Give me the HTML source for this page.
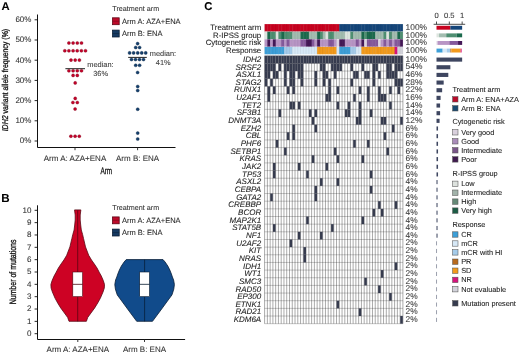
<!DOCTYPE html>
<html><head><meta charset="utf-8"><style>
html,body{margin:0;padding:0;background:#fff;}
svg{display:block;font-family:"Liberation Sans", sans-serif;will-change:transform;text-rendering:geometricPrecision;}
text{paint-order:stroke;stroke-width:0.08px;stroke:currentColor;}
</style></head><body>
<svg width="520" height="355" viewBox="0 0 520 355">
<text x="1.4" y="9.6" font-size="11.3" text-anchor="start" fill="#000" color="#000" font-weight="bold" font-style="normal" >A</text>
<path d="M37.5 14.5 V147.5 H175.5" fill="none" stroke="#111" stroke-width="1"/>
<line x1="34.6" y1="141.00" x2="37.5" y2="141.00" stroke="#111" stroke-width="0.9"/>
<text x="31.4" y="143.4" font-size="8" text-anchor="end" fill="#333" color="#333" font-weight="normal" font-style="normal" >0%</text>
<line x1="34.6" y1="120.80" x2="37.5" y2="120.80" stroke="#111" stroke-width="0.9"/>
<text x="31.4" y="123.2" font-size="8" text-anchor="end" fill="#333" color="#333" font-weight="normal" font-style="normal" >10%</text>
<line x1="34.6" y1="100.60" x2="37.5" y2="100.60" stroke="#111" stroke-width="0.9"/>
<text x="31.4" y="103.0" font-size="8" text-anchor="end" fill="#333" color="#333" font-weight="normal" font-style="normal" >20%</text>
<line x1="34.6" y1="80.40" x2="37.5" y2="80.40" stroke="#111" stroke-width="0.9"/>
<text x="31.4" y="82.80000000000001" font-size="8" text-anchor="end" fill="#333" color="#333" font-weight="normal" font-style="normal" >30%</text>
<line x1="34.6" y1="60.20" x2="37.5" y2="60.20" stroke="#111" stroke-width="0.9"/>
<text x="31.4" y="62.6" font-size="8" text-anchor="end" fill="#333" color="#333" font-weight="normal" font-style="normal" >40%</text>
<line x1="34.6" y1="40.00" x2="37.5" y2="40.00" stroke="#111" stroke-width="0.9"/>
<text x="31.4" y="42.4" font-size="8" text-anchor="end" fill="#333" color="#333" font-weight="normal" font-style="normal" >50%</text>
<line x1="34.6" y1="19.80" x2="37.5" y2="19.80" stroke="#111" stroke-width="0.9"/>
<text x="31.4" y="22.20000000000001" font-size="8" text-anchor="end" fill="#333" color="#333" font-weight="normal" font-style="normal" >60%</text>
<line x1="75" y1="147.5" x2="75" y2="150.2" stroke="#222" stroke-width="0.9"/>
<line x1="137.6" y1="147.5" x2="137.6" y2="150.2" stroke="#222" stroke-width="0.9"/>
<text x="75" y="160.8" font-size="8" text-anchor="middle" fill="#333" color="#333" font-weight="normal" font-style="normal" >Arm A: AZA+ENA</text>
<text x="137.6" y="160.8" font-size="8" text-anchor="middle" fill="#333" color="#333" font-weight="normal" font-style="normal" >Arm B: ENA</text>
<text x="0" y="0" font-size="9.6" text-anchor="middle" fill="#111" color="#111" style="stroke-width:0.3px" transform="translate(106.3 174.3) scale(0.66 1)">Arm</text>
<text x="0" y="0" font-size="8.5" text-anchor="middle" fill="#111" color="#111" style="stroke-width:0.3px" transform="translate(7.7 80.1) rotate(-90) scale(0.822 1)"><tspan font-style="italic">IDH2</tspan> variant allele frequency (%)</text>
<circle cx="68.9" cy="43.00" r="1.55" fill="#c3042a" stroke="#7a0018" stroke-width="0.35"/>
<circle cx="73.1" cy="43.00" r="1.55" fill="#c3042a" stroke="#7a0018" stroke-width="0.35"/>
<circle cx="77.3" cy="43.00" r="1.55" fill="#c3042a" stroke="#7a0018" stroke-width="0.35"/>
<circle cx="81.5" cy="43.00" r="1.55" fill="#c3042a" stroke="#7a0018" stroke-width="0.35"/>
<circle cx="64.8" cy="50.80" r="1.55" fill="#c3042a" stroke="#7a0018" stroke-width="0.35"/>
<circle cx="68.9" cy="50.80" r="1.55" fill="#c3042a" stroke="#7a0018" stroke-width="0.35"/>
<circle cx="73.1" cy="50.80" r="1.55" fill="#c3042a" stroke="#7a0018" stroke-width="0.35"/>
<circle cx="77.2" cy="50.80" r="1.55" fill="#c3042a" stroke="#7a0018" stroke-width="0.35"/>
<circle cx="81.4" cy="50.80" r="1.55" fill="#c3042a" stroke="#7a0018" stroke-width="0.35"/>
<circle cx="85.5" cy="50.80" r="1.55" fill="#c3042a" stroke="#7a0018" stroke-width="0.35"/>
<circle cx="71" cy="60.10" r="1.55" fill="#c3042a" stroke="#7a0018" stroke-width="0.35"/>
<circle cx="75.2" cy="60.10" r="1.55" fill="#c3042a" stroke="#7a0018" stroke-width="0.35"/>
<circle cx="79.4" cy="60.10" r="1.55" fill="#c3042a" stroke="#7a0018" stroke-width="0.35"/>
<circle cx="68.9" cy="70.80" r="1.55" fill="#c3042a" stroke="#7a0018" stroke-width="0.35"/>
<circle cx="73.1" cy="70.80" r="1.55" fill="#c3042a" stroke="#7a0018" stroke-width="0.35"/>
<circle cx="77.3" cy="70.80" r="1.55" fill="#c3042a" stroke="#7a0018" stroke-width="0.35"/>
<circle cx="81.5" cy="70.80" r="1.55" fill="#c3042a" stroke="#7a0018" stroke-width="0.35"/>
<circle cx="73.1" cy="75.40" r="1.55" fill="#c3042a" stroke="#7a0018" stroke-width="0.35"/>
<circle cx="77.3" cy="75.40" r="1.55" fill="#c3042a" stroke="#7a0018" stroke-width="0.35"/>
<circle cx="75.2" cy="82.90" r="1.55" fill="#c3042a" stroke="#7a0018" stroke-width="0.35"/>
<circle cx="75.2" cy="98.40" r="1.55" fill="#c3042a" stroke="#7a0018" stroke-width="0.35"/>
<circle cx="72.9" cy="102.50" r="1.55" fill="#c3042a" stroke="#7a0018" stroke-width="0.35"/>
<circle cx="77.3" cy="102.50" r="1.55" fill="#c3042a" stroke="#7a0018" stroke-width="0.35"/>
<circle cx="75.1" cy="109.00" r="1.55" fill="#c3042a" stroke="#7a0018" stroke-width="0.35"/>
<circle cx="70.9" cy="136.20" r="1.55" fill="#c3042a" stroke="#7a0018" stroke-width="0.35"/>
<circle cx="75.1" cy="136.20" r="1.55" fill="#c3042a" stroke="#7a0018" stroke-width="0.35"/>
<circle cx="79.3" cy="136.20" r="1.55" fill="#c3042a" stroke="#7a0018" stroke-width="0.35"/>
<line x1="65.4" y1="68.7" x2="85" y2="68.7" stroke="#222" stroke-width="1"/>
<circle cx="137.6" cy="43.60" r="1.55" fill="#15406e" stroke="#0a2240" stroke-width="0.35"/>
<circle cx="135.7" cy="47.50" r="1.55" fill="#15406e" stroke="#0a2240" stroke-width="0.35"/>
<circle cx="139.6" cy="47.50" r="1.55" fill="#15406e" stroke="#0a2240" stroke-width="0.35"/>
<circle cx="129.6" cy="52.90" r="1.55" fill="#15406e" stroke="#0a2240" stroke-width="0.35"/>
<circle cx="133.6" cy="52.90" r="1.55" fill="#15406e" stroke="#0a2240" stroke-width="0.35"/>
<circle cx="137.7" cy="52.90" r="1.55" fill="#15406e" stroke="#0a2240" stroke-width="0.35"/>
<circle cx="141.7" cy="52.90" r="1.55" fill="#15406e" stroke="#0a2240" stroke-width="0.35"/>
<circle cx="145.7" cy="52.90" r="1.55" fill="#15406e" stroke="#0a2240" stroke-width="0.35"/>
<circle cx="131.5" cy="59.50" r="1.55" fill="#15406e" stroke="#0a2240" stroke-width="0.35"/>
<circle cx="135.5" cy="59.50" r="1.55" fill="#15406e" stroke="#0a2240" stroke-width="0.35"/>
<circle cx="139.5" cy="59.50" r="1.55" fill="#15406e" stroke="#0a2240" stroke-width="0.35"/>
<circle cx="143.5" cy="59.50" r="1.55" fill="#15406e" stroke="#0a2240" stroke-width="0.35"/>
<circle cx="135.7" cy="65.30" r="1.55" fill="#15406e" stroke="#0a2240" stroke-width="0.35"/>
<circle cx="139.6" cy="65.30" r="1.55" fill="#15406e" stroke="#0a2240" stroke-width="0.35"/>
<circle cx="137.6" cy="72.50" r="1.55" fill="#15406e" stroke="#0a2240" stroke-width="0.35"/>
<circle cx="137.7" cy="86.50" r="1.55" fill="#15406e" stroke="#0a2240" stroke-width="0.35"/>
<circle cx="137.7" cy="90.50" r="1.55" fill="#15406e" stroke="#0a2240" stroke-width="0.35"/>
<circle cx="137.7" cy="109.20" r="1.55" fill="#15406e" stroke="#0a2240" stroke-width="0.35"/>
<circle cx="137.7" cy="133.10" r="1.55" fill="#15406e" stroke="#0a2240" stroke-width="0.35"/>
<circle cx="137.7" cy="139.00" r="1.55" fill="#15406e" stroke="#0a2240" stroke-width="0.35"/>
<line x1="128.2" y1="57.4" x2="146.8" y2="57.4" stroke="#222" stroke-width="1"/>
<text x="100.4" y="66.9" font-size="7.4" text-anchor="middle" fill="#3a3a3a" color="#3a3a3a" font-weight="normal" font-style="normal" >median:</text>
<text x="100.6" y="76.0" font-size="7.4" text-anchor="middle" fill="#3a3a3a" color="#3a3a3a" font-weight="normal" font-style="normal" >36%</text>
<text x="163.0" y="56.1" font-size="7.4" text-anchor="middle" fill="#3a3a3a" color="#3a3a3a" font-weight="normal" font-style="normal" >median:</text>
<text x="163.2" y="64.8" font-size="7.4" text-anchor="middle" fill="#3a3a3a" color="#3a3a3a" font-weight="normal" font-style="normal" >41%</text>
<text x="112.3" y="11.4" font-size="7.2" text-anchor="start" fill="#333" color="#333" font-weight="normal" font-style="normal" >Treatment arm</text>
<rect x="112.5" y="17.8" width="6.7" height="6.9" fill="#bd0a2a" stroke="#5a0010" stroke-width="0.75"/>
<line x1="112.5" y1="21.25" x2="119.2" y2="21.25" stroke="#6a0a18" stroke-width="0.5"/>
<text x="122.0" y="23.6" font-size="7.5" text-anchor="start" fill="#2a2a2a" color="#2a2a2a" font-weight="normal" font-style="normal" >Arm A: AZA+ENA</text>
<rect x="112.5" y="30.099999999999998" width="6.7" height="6.9" fill="#163a62" stroke="#081a30" stroke-width="0.75"/>
<line x1="112.5" y1="33.55" x2="119.2" y2="33.55" stroke="#0a2038" stroke-width="0.5"/>
<text x="122.0" y="35.9" font-size="7.5" text-anchor="start" fill="#2a2a2a" color="#2a2a2a" font-weight="normal" font-style="normal" >Arm B: ENA</text>
<text x="1.2" y="201.9" font-size="11.6" text-anchor="start" fill="#000" color="#000" font-weight="bold" font-style="normal" >B</text>
<path d="M37.5 205.3 V339.5 H185.1" fill="none" stroke="#111" stroke-width="1"/>
<line x1="34.6" y1="333.70" x2="37.5" y2="333.70" stroke="#111" stroke-width="0.9"/>
<text x="31.4" y="336.09999999999997" font-size="8" text-anchor="end" fill="#333" color="#333" font-weight="normal" font-style="normal" >0</text>
<line x1="34.6" y1="321.36" x2="37.5" y2="321.36" stroke="#111" stroke-width="0.9"/>
<text x="31.4" y="323.76" font-size="8" text-anchor="end" fill="#333" color="#333" font-weight="normal" font-style="normal" >1</text>
<line x1="34.6" y1="309.02" x2="37.5" y2="309.02" stroke="#111" stroke-width="0.9"/>
<text x="31.4" y="311.41999999999996" font-size="8" text-anchor="end" fill="#333" color="#333" font-weight="normal" font-style="normal" >2</text>
<line x1="34.6" y1="296.68" x2="37.5" y2="296.68" stroke="#111" stroke-width="0.9"/>
<text x="31.4" y="299.08" font-size="8" text-anchor="end" fill="#333" color="#333" font-weight="normal" font-style="normal" >3</text>
<line x1="34.6" y1="284.34" x2="37.5" y2="284.34" stroke="#111" stroke-width="0.9"/>
<text x="31.4" y="286.73999999999995" font-size="8" text-anchor="end" fill="#333" color="#333" font-weight="normal" font-style="normal" >4</text>
<line x1="34.6" y1="272.00" x2="37.5" y2="272.00" stroke="#111" stroke-width="0.9"/>
<text x="31.4" y="274.4" font-size="8" text-anchor="end" fill="#333" color="#333" font-weight="normal" font-style="normal" >5</text>
<line x1="34.6" y1="259.66" x2="37.5" y2="259.66" stroke="#111" stroke-width="0.9"/>
<text x="31.4" y="262.05999999999995" font-size="8" text-anchor="end" fill="#333" color="#333" font-weight="normal" font-style="normal" >6</text>
<line x1="34.6" y1="247.32" x2="37.5" y2="247.32" stroke="#111" stroke-width="0.9"/>
<text x="31.4" y="249.72" font-size="8" text-anchor="end" fill="#333" color="#333" font-weight="normal" font-style="normal" >7</text>
<line x1="34.6" y1="234.98" x2="37.5" y2="234.98" stroke="#111" stroke-width="0.9"/>
<text x="31.4" y="237.38" font-size="8" text-anchor="end" fill="#333" color="#333" font-weight="normal" font-style="normal" >8</text>
<line x1="34.6" y1="222.64" x2="37.5" y2="222.64" stroke="#111" stroke-width="0.9"/>
<text x="31.4" y="225.04" font-size="8" text-anchor="end" fill="#333" color="#333" font-weight="normal" font-style="normal" >9</text>
<line x1="34.6" y1="210.30" x2="37.5" y2="210.30" stroke="#111" stroke-width="0.9"/>
<text x="31.4" y="212.7" font-size="8" text-anchor="end" fill="#333" color="#333" font-weight="normal" font-style="normal" >10</text>
<line x1="77.8" y1="339.4" x2="77.8" y2="342" stroke="#222" stroke-width="0.9"/>
<line x1="144.5" y1="339.4" x2="144.5" y2="342" stroke="#222" stroke-width="0.9"/>
<text x="77.8" y="352.3" font-size="8" text-anchor="middle" fill="#333" color="#333" font-weight="normal" font-style="normal" >Arm A: AZA+ENA</text>
<text x="144.5" y="352.3" font-size="8" text-anchor="middle" fill="#333" color="#333" font-weight="normal" font-style="normal" >Arm B: ENA</text>
<text x="0" y="0" font-size="9.4" text-anchor="middle" fill="#111" color="#111" style="stroke-width:0.3px" transform="translate(16.3 271.9) rotate(-90) scale(0.743 1)">Number of mutations</text>
<polygon points="80.85,209.90 80.60,212.00 80.20,215.00 80.20,220.00 80.70,225.00 81.30,230.00 82.60,234.50 83.50,238.40 85.50,246.90 88.70,255.30 91.50,260.00 94.20,263.80 97.00,268.00 99.20,272.20 101.30,276.00 103.30,280.60 104.50,284.50 104.30,288.00 103.00,292.00 100.30,298.30 97.70,303.00 94.70,307.90 91.70,312.00 87.70,317.50 86.40,321.30 69.00,321.30 67.70,317.50 63.70,312.00 60.70,307.90 57.70,303.00 55.10,298.30 52.40,292.00 51.10,288.00 50.90,284.50 52.10,280.60 54.10,276.00 56.20,272.20 58.40,268.00 61.20,263.80 63.90,260.00 66.70,255.30 69.90,246.90 71.90,238.40 72.80,234.50 74.10,230.00 74.70,225.00 75.20,220.00 75.20,215.00 74.80,212.00 74.55,209.90" fill="#cd0224" stroke="#5a0814" stroke-width="0.8" stroke-linejoin="round"/>
<line x1="77.7" y1="210.30" x2="77.7" y2="321.36" stroke="#4a0610" stroke-width="0.7"/>
<rect x="72.8" y="272.00" width="9.8" height="24.68" fill="#fff" stroke="#4a0610" stroke-width="0.6"/>
<line x1="72.8" y1="284.34" x2="82.60000000000001" y2="284.34" stroke="#4a0610" stroke-width="0.8"/>
<polygon points="163.00,259.60 165.10,262.00 167.80,266.00 169.80,270.00 171.40,274.00 172.40,277.00 173.60,280.00 174.40,284.50 173.80,289.00 172.90,292.00 171.90,295.00 168.20,300.00 160.90,310.00 152.50,321.30 136.70,321.30 128.30,310.00 121.00,300.00 117.30,295.00 116.30,292.00 115.40,289.00 114.80,284.50 115.60,280.00 116.80,277.00 117.80,274.00 119.40,270.00 121.40,266.00 124.10,262.00 126.20,259.60" fill="#114b8b" stroke="#081d36" stroke-width="0.8" stroke-linejoin="round"/>
<line x1="144.6" y1="259.66" x2="144.6" y2="321.36" stroke="#061a30" stroke-width="0.7"/>
<rect x="139.7" y="272.00" width="9.8" height="24.68" fill="#fff" stroke="#061a30" stroke-width="0.6"/>
<line x1="139.7" y1="284.34" x2="149.5" y2="284.34" stroke="#061a30" stroke-width="0.8"/>
<text x="112.3" y="209.9" font-size="7.2" text-anchor="start" fill="#333" color="#333" font-weight="normal" font-style="normal" >Treatment arm</text>
<rect x="112.5" y="216.89999999999998" width="6.7" height="6.9" fill="#bd0a2a" stroke="#5a0010" stroke-width="0.75"/>
<line x1="112.5" y1="220.35" x2="119.2" y2="220.35" stroke="#6a0a18" stroke-width="0.5"/>
<text x="122.0" y="222.7" font-size="7.5" text-anchor="start" fill="#2a2a2a" color="#2a2a2a" font-weight="normal" font-style="normal" >Arm A: AZA+ENA</text>
<rect x="112.5" y="229.1" width="6.7" height="6.9" fill="#163a62" stroke="#081a30" stroke-width="0.75"/>
<line x1="112.5" y1="232.55" x2="119.2" y2="232.55" stroke="#0a2038" stroke-width="0.5"/>
<text x="122.0" y="234.9" font-size="7.5" text-anchor="start" fill="#2a2a2a" color="#2a2a2a" font-weight="normal" font-style="normal" >Arm B: ENA</text>
<text x="204.3" y="10.0" font-size="11.3" text-anchor="start" fill="#000" color="#000" font-weight="bold" font-style="normal" >C</text>
<rect x="264.600" y="24.100" width="3.116" height="7.400" fill="#c80320"/>
<rect x="267.366" y="24.100" width="3.116" height="7.400" fill="#c80320"/>
<rect x="270.132" y="24.100" width="3.116" height="7.400" fill="#c80320"/>
<rect x="272.898" y="24.100" width="3.116" height="7.400" fill="#c80320"/>
<rect x="275.664" y="24.100" width="3.116" height="7.400" fill="#c80320"/>
<rect x="278.430" y="24.100" width="3.116" height="7.400" fill="#c80320"/>
<rect x="281.196" y="24.100" width="3.116" height="7.400" fill="#c80320"/>
<rect x="283.962" y="24.100" width="3.116" height="7.400" fill="#c80320"/>
<rect x="286.728" y="24.100" width="3.116" height="7.400" fill="#c80320"/>
<rect x="289.494" y="24.100" width="3.116" height="7.400" fill="#c80320"/>
<rect x="292.260" y="24.100" width="3.116" height="7.400" fill="#c80320"/>
<rect x="295.026" y="24.100" width="3.116" height="7.400" fill="#c80320"/>
<rect x="297.792" y="24.100" width="3.116" height="7.400" fill="#c80320"/>
<rect x="300.558" y="24.100" width="3.116" height="7.400" fill="#c80320"/>
<rect x="303.324" y="24.100" width="3.116" height="7.400" fill="#c80320"/>
<rect x="306.090" y="24.100" width="3.116" height="7.400" fill="#c80320"/>
<rect x="308.856" y="24.100" width="3.116" height="7.400" fill="#c80320"/>
<rect x="311.622" y="24.100" width="3.116" height="7.400" fill="#c80320"/>
<rect x="314.388" y="24.100" width="3.116" height="7.400" fill="#c80320"/>
<rect x="317.154" y="24.100" width="3.116" height="7.400" fill="#c80320"/>
<rect x="319.920" y="24.100" width="3.116" height="7.400" fill="#c80320"/>
<rect x="322.686" y="24.100" width="3.116" height="7.400" fill="#c80320"/>
<rect x="325.452" y="24.100" width="3.116" height="7.400" fill="#c80320"/>
<rect x="328.218" y="24.100" width="3.116" height="7.400" fill="#c80320"/>
<rect x="330.984" y="24.100" width="3.116" height="7.400" fill="#c80320"/>
<rect x="333.750" y="24.100" width="3.116" height="7.400" fill="#c80320"/>
<rect x="336.516" y="24.100" width="3.116" height="7.400" fill="#c80320"/>
<rect x="339.282" y="24.100" width="3.116" height="7.400" fill="#15467a"/>
<rect x="342.048" y="24.100" width="3.116" height="7.400" fill="#15467a"/>
<rect x="344.814" y="24.100" width="3.116" height="7.400" fill="#15467a"/>
<rect x="347.580" y="24.100" width="3.116" height="7.400" fill="#15467a"/>
<rect x="350.346" y="24.100" width="3.116" height="7.400" fill="#15467a"/>
<rect x="353.112" y="24.100" width="3.116" height="7.400" fill="#15467a"/>
<rect x="355.878" y="24.100" width="3.116" height="7.400" fill="#15467a"/>
<rect x="358.644" y="24.100" width="3.116" height="7.400" fill="#15467a"/>
<rect x="361.410" y="24.100" width="3.116" height="7.400" fill="#15467a"/>
<rect x="364.176" y="24.100" width="3.116" height="7.400" fill="#15467a"/>
<rect x="366.942" y="24.100" width="3.116" height="7.400" fill="#15467a"/>
<rect x="369.708" y="24.100" width="3.116" height="7.400" fill="#15467a"/>
<rect x="372.474" y="24.100" width="3.116" height="7.400" fill="#15467a"/>
<rect x="375.240" y="24.100" width="3.116" height="7.400" fill="#15467a"/>
<rect x="378.006" y="24.100" width="3.116" height="7.400" fill="#15467a"/>
<rect x="380.772" y="24.100" width="3.116" height="7.400" fill="#15467a"/>
<rect x="383.538" y="24.100" width="3.116" height="7.400" fill="#15467a"/>
<rect x="386.304" y="24.100" width="3.116" height="7.400" fill="#15467a"/>
<rect x="389.070" y="24.100" width="3.116" height="7.400" fill="#15467a"/>
<rect x="391.836" y="24.100" width="3.116" height="7.400" fill="#15467a"/>
<rect x="394.602" y="24.100" width="3.116" height="7.400" fill="#15467a"/>
<rect x="397.368" y="24.100" width="3.116" height="7.400" fill="#15467a"/>
<rect x="400.134" y="24.100" width="2.766" height="7.400" fill="#15467a"/>
<rect x="264.600" y="31.700" width="3.116" height="7.400" fill="#dde5df"/>
<rect x="267.366" y="31.700" width="3.116" height="7.400" fill="#1b6a4d"/>
<rect x="270.132" y="31.700" width="3.116" height="7.400" fill="#4f8f72"/>
<rect x="272.898" y="31.700" width="3.116" height="7.400" fill="#4f8f72"/>
<rect x="275.664" y="31.700" width="3.116" height="7.400" fill="#dde5df"/>
<rect x="278.430" y="31.700" width="3.116" height="7.400" fill="#4f8f72"/>
<rect x="281.196" y="31.700" width="3.116" height="7.400" fill="#1b6a4d"/>
<rect x="283.962" y="31.700" width="3.116" height="7.400" fill="#4f8f72"/>
<rect x="286.728" y="31.700" width="3.116" height="7.400" fill="#4f8f72"/>
<rect x="289.494" y="31.700" width="3.116" height="7.400" fill="#4f8f72"/>
<rect x="292.260" y="31.700" width="3.116" height="7.400" fill="#a3bdb0"/>
<rect x="295.026" y="31.700" width="3.116" height="7.400" fill="#a3bdb0"/>
<rect x="297.792" y="31.700" width="3.116" height="7.400" fill="#a3bdb0"/>
<rect x="300.558" y="31.700" width="3.116" height="7.400" fill="#1b6a4d"/>
<rect x="303.324" y="31.700" width="3.116" height="7.400" fill="#1b6a4d"/>
<rect x="306.090" y="31.700" width="3.116" height="7.400" fill="#1b6a4d"/>
<rect x="308.856" y="31.700" width="3.116" height="7.400" fill="#a3bdb0"/>
<rect x="311.622" y="31.700" width="3.116" height="7.400" fill="#a3bdb0"/>
<rect x="314.388" y="31.700" width="3.116" height="7.400" fill="#a3bdb0"/>
<rect x="317.154" y="31.700" width="3.116" height="7.400" fill="#1b6a4d"/>
<rect x="319.920" y="31.700" width="3.116" height="7.400" fill="#4f8f72"/>
<rect x="322.686" y="31.700" width="3.116" height="7.400" fill="#a3bdb0"/>
<rect x="325.452" y="31.700" width="3.116" height="7.400" fill="#dde5df"/>
<rect x="328.218" y="31.700" width="3.116" height="7.400" fill="#4f8f72"/>
<rect x="330.984" y="31.700" width="3.116" height="7.400" fill="#4f8f72"/>
<rect x="333.750" y="31.700" width="3.116" height="7.400" fill="#a3bdb0"/>
<rect x="336.516" y="31.700" width="3.116" height="7.400" fill="#a3bdb0"/>
<rect x="339.282" y="31.700" width="3.116" height="7.400" fill="#a3bdb0"/>
<rect x="342.048" y="31.700" width="3.116" height="7.400" fill="#a3bdb0"/>
<rect x="344.814" y="31.700" width="3.116" height="7.400" fill="#dde5df"/>
<rect x="347.580" y="31.700" width="3.116" height="7.400" fill="#dde5df"/>
<rect x="350.346" y="31.700" width="3.116" height="7.400" fill="#4f8f72"/>
<rect x="353.112" y="31.700" width="3.116" height="7.400" fill="#a3bdb0"/>
<rect x="355.878" y="31.700" width="3.116" height="7.400" fill="#a3bdb0"/>
<rect x="358.644" y="31.700" width="3.116" height="7.400" fill="#a3bdb0"/>
<rect x="361.410" y="31.700" width="3.116" height="7.400" fill="#1b6a4d"/>
<rect x="364.176" y="31.700" width="3.116" height="7.400" fill="#4f8f72"/>
<rect x="366.942" y="31.700" width="3.116" height="7.400" fill="#1b6a4d"/>
<rect x="369.708" y="31.700" width="3.116" height="7.400" fill="#1b6a4d"/>
<rect x="372.474" y="31.700" width="3.116" height="7.400" fill="#1b6a4d"/>
<rect x="375.240" y="31.700" width="3.116" height="7.400" fill="#a3bdb0"/>
<rect x="378.006" y="31.700" width="3.116" height="7.400" fill="#a3bdb0"/>
<rect x="380.772" y="31.700" width="3.116" height="7.400" fill="#a3bdb0"/>
<rect x="383.538" y="31.700" width="3.116" height="7.400" fill="#4f8f72"/>
<rect x="386.304" y="31.700" width="3.116" height="7.400" fill="#dde5df"/>
<rect x="389.070" y="31.700" width="3.116" height="7.400" fill="#4f8f72"/>
<rect x="391.836" y="31.700" width="3.116" height="7.400" fill="#a3bdb0"/>
<rect x="394.602" y="31.700" width="3.116" height="7.400" fill="#a3bdb0"/>
<rect x="397.368" y="31.700" width="3.116" height="7.400" fill="#1b6a4d"/>
<rect x="400.134" y="31.700" width="2.766" height="7.400" fill="#4f8f72"/>
<rect x="264.600" y="39.300" width="3.116" height="7.400" fill="#b895c5"/>
<rect x="267.366" y="39.300" width="3.116" height="7.400" fill="#441857"/>
<rect x="270.132" y="39.300" width="3.116" height="7.400" fill="#b895c5"/>
<rect x="272.898" y="39.300" width="3.116" height="7.400" fill="#441857"/>
<rect x="275.664" y="39.300" width="3.116" height="7.400" fill="#b895c5"/>
<rect x="278.430" y="39.300" width="3.116" height="7.400" fill="#b895c5"/>
<rect x="281.196" y="39.300" width="3.116" height="7.400" fill="#85599b"/>
<rect x="283.962" y="39.300" width="3.116" height="7.400" fill="#b895c5"/>
<rect x="286.728" y="39.300" width="3.116" height="7.400" fill="#85599b"/>
<rect x="289.494" y="39.300" width="3.116" height="7.400" fill="#b895c5"/>
<rect x="292.260" y="39.300" width="3.116" height="7.400" fill="#b895c5"/>
<rect x="295.026" y="39.300" width="3.116" height="7.400" fill="#b895c5"/>
<rect x="297.792" y="39.300" width="3.116" height="7.400" fill="#b895c5"/>
<rect x="300.558" y="39.300" width="3.116" height="7.400" fill="#85599b"/>
<rect x="303.324" y="39.300" width="3.116" height="7.400" fill="#85599b"/>
<rect x="306.090" y="39.300" width="3.116" height="7.400" fill="#441857"/>
<rect x="308.856" y="39.300" width="3.116" height="7.400" fill="#441857"/>
<rect x="311.622" y="39.300" width="3.116" height="7.400" fill="#85599b"/>
<rect x="314.388" y="39.300" width="3.116" height="7.400" fill="#b895c5"/>
<rect x="317.154" y="39.300" width="3.116" height="7.400" fill="#441857"/>
<rect x="319.920" y="39.300" width="3.116" height="7.400" fill="#b895c5"/>
<rect x="322.686" y="39.300" width="3.116" height="7.400" fill="#b895c5"/>
<rect x="325.452" y="39.300" width="3.116" height="7.400" fill="#b895c5"/>
<rect x="328.218" y="39.300" width="3.116" height="7.400" fill="#85599b"/>
<rect x="330.984" y="39.300" width="3.116" height="7.400" fill="#85599b"/>
<rect x="333.750" y="39.300" width="3.116" height="7.400" fill="#b895c5"/>
<rect x="336.516" y="39.300" width="3.116" height="7.400" fill="#ddd3e2"/>
<rect x="339.282" y="39.300" width="3.116" height="7.400" fill="#441857"/>
<rect x="342.048" y="39.300" width="3.116" height="7.400" fill="#441857"/>
<rect x="344.814" y="39.300" width="3.116" height="7.400" fill="#b895c5"/>
<rect x="347.580" y="39.300" width="3.116" height="7.400" fill="#b895c5"/>
<rect x="350.346" y="39.300" width="3.116" height="7.400" fill="#b895c5"/>
<rect x="353.112" y="39.300" width="3.116" height="7.400" fill="#b895c5"/>
<rect x="355.878" y="39.300" width="3.116" height="7.400" fill="#85599b"/>
<rect x="358.644" y="39.300" width="3.116" height="7.400" fill="#b895c5"/>
<rect x="361.410" y="39.300" width="3.116" height="7.400" fill="#441857"/>
<rect x="364.176" y="39.300" width="3.116" height="7.400" fill="#ddd3e2"/>
<rect x="366.942" y="39.300" width="3.116" height="7.400" fill="#85599b"/>
<rect x="369.708" y="39.300" width="3.116" height="7.400" fill="#85599b"/>
<rect x="372.474" y="39.300" width="3.116" height="7.400" fill="#85599b"/>
<rect x="375.240" y="39.300" width="3.116" height="7.400" fill="#85599b"/>
<rect x="378.006" y="39.300" width="3.116" height="7.400" fill="#ddd3e2"/>
<rect x="380.772" y="39.300" width="3.116" height="7.400" fill="#b895c5"/>
<rect x="383.538" y="39.300" width="3.116" height="7.400" fill="#85599b"/>
<rect x="386.304" y="39.300" width="3.116" height="7.400" fill="#b895c5"/>
<rect x="389.070" y="39.300" width="3.116" height="7.400" fill="#85599b"/>
<rect x="391.836" y="39.300" width="3.116" height="7.400" fill="#b895c5"/>
<rect x="394.602" y="39.300" width="3.116" height="7.400" fill="#85599b"/>
<rect x="397.368" y="39.300" width="3.116" height="7.400" fill="#85599b"/>
<rect x="400.134" y="39.300" width="2.766" height="7.400" fill="#441857"/>
<rect x="264.600" y="46.900" width="3.116" height="7.400" fill="#3d9fd8"/>
<rect x="267.366" y="46.900" width="3.116" height="7.400" fill="#3d9fd8"/>
<rect x="270.132" y="46.900" width="3.116" height="7.400" fill="#3d9fd8"/>
<rect x="272.898" y="46.900" width="3.116" height="7.400" fill="#3d9fd8"/>
<rect x="275.664" y="46.900" width="3.116" height="7.400" fill="#3d9fd8"/>
<rect x="278.430" y="46.900" width="3.116" height="7.400" fill="#3d9fd8"/>
<rect x="281.196" y="46.900" width="3.116" height="7.400" fill="#3d9fd8"/>
<rect x="283.962" y="46.900" width="3.116" height="7.400" fill="#a4cbea"/>
<rect x="286.728" y="46.900" width="3.116" height="7.400" fill="#a4cbea"/>
<rect x="289.494" y="46.900" width="3.116" height="7.400" fill="#a4cbea"/>
<rect x="292.260" y="46.900" width="3.116" height="7.400" fill="#d6e8f6"/>
<rect x="295.026" y="46.900" width="3.116" height="7.400" fill="#d6e8f6"/>
<rect x="297.792" y="46.900" width="3.116" height="7.400" fill="#d6e8f6"/>
<rect x="300.558" y="46.900" width="3.116" height="7.400" fill="#d6e8f6"/>
<rect x="303.324" y="46.900" width="3.116" height="7.400" fill="#d6e8f6"/>
<rect x="306.090" y="46.900" width="3.116" height="7.400" fill="#d6e8f6"/>
<rect x="308.856" y="46.900" width="3.116" height="7.400" fill="#d6e8f6"/>
<rect x="311.622" y="46.900" width="3.116" height="7.400" fill="#d6e8f6"/>
<rect x="314.388" y="46.900" width="3.116" height="7.400" fill="#d6e8f6"/>
<rect x="317.154" y="46.900" width="3.116" height="7.400" fill="#f29a1c"/>
<rect x="319.920" y="46.900" width="3.116" height="7.400" fill="#f29a1c"/>
<rect x="322.686" y="46.900" width="3.116" height="7.400" fill="#f29a1c"/>
<rect x="325.452" y="46.900" width="3.116" height="7.400" fill="#f29a1c"/>
<rect x="328.218" y="46.900" width="3.116" height="7.400" fill="#f29a1c"/>
<rect x="330.984" y="46.900" width="3.116" height="7.400" fill="#f29a1c"/>
<rect x="333.750" y="46.900" width="3.116" height="7.400" fill="#f29a1c"/>
<rect x="336.516" y="46.900" width="3.116" height="7.400" fill="#d6e8f6"/>
<rect x="339.282" y="46.900" width="3.116" height="7.400" fill="#3d9fd8"/>
<rect x="342.048" y="46.900" width="3.116" height="7.400" fill="#3d9fd8"/>
<rect x="344.814" y="46.900" width="3.116" height="7.400" fill="#3d9fd8"/>
<rect x="347.580" y="46.900" width="3.116" height="7.400" fill="#3d9fd8"/>
<rect x="350.346" y="46.900" width="3.116" height="7.400" fill="#a4cbea"/>
<rect x="353.112" y="46.900" width="3.116" height="7.400" fill="#a4cbea"/>
<rect x="355.878" y="46.900" width="3.116" height="7.400" fill="#d6e8f6"/>
<rect x="358.644" y="46.900" width="3.116" height="7.400" fill="#d6e8f6"/>
<rect x="361.410" y="46.900" width="3.116" height="7.400" fill="#f29a1c"/>
<rect x="364.176" y="46.900" width="3.116" height="7.400" fill="#f29a1c"/>
<rect x="366.942" y="46.900" width="3.116" height="7.400" fill="#f29a1c"/>
<rect x="369.708" y="46.900" width="3.116" height="7.400" fill="#f29a1c"/>
<rect x="372.474" y="46.900" width="3.116" height="7.400" fill="#f29a1c"/>
<rect x="375.240" y="46.900" width="3.116" height="7.400" fill="#f29a1c"/>
<rect x="378.006" y="46.900" width="3.116" height="7.400" fill="#f29a1c"/>
<rect x="380.772" y="46.900" width="3.116" height="7.400" fill="#f29a1c"/>
<rect x="383.538" y="46.900" width="3.116" height="7.400" fill="#f29a1c"/>
<rect x="386.304" y="46.900" width="3.116" height="7.400" fill="#f29a1c"/>
<rect x="389.070" y="46.900" width="3.116" height="7.400" fill="#f29a1c"/>
<rect x="391.836" y="46.900" width="3.116" height="7.400" fill="#f29a1c"/>
<rect x="394.602" y="46.900" width="3.116" height="7.400" fill="#d6137c"/>
<rect x="397.368" y="46.900" width="3.116" height="7.400" fill="#d2d2da"/>
<rect x="400.134" y="46.900" width="2.766" height="7.400" fill="#d2d2da"/>
<path d="M264.600 55.75V323.68M267.366 55.75V323.68M270.132 55.75V323.68M272.898 55.75V323.68M275.664 55.75V323.68M278.430 55.75V323.68M281.196 55.75V323.68M283.962 55.75V323.68M286.728 55.75V323.68M289.494 55.75V323.68M292.260 55.75V323.68M295.026 55.75V323.68M297.792 55.75V323.68M300.558 55.75V323.68M303.324 55.75V323.68M306.090 55.75V323.68M308.856 55.75V323.68M311.622 55.75V323.68M314.388 55.75V323.68M317.154 55.75V323.68M319.920 55.75V323.68M322.686 55.75V323.68M325.452 55.75V323.68M328.218 55.75V323.68M330.984 55.75V323.68M333.750 55.75V323.68M336.516 55.75V323.68M339.282 55.75V323.68M342.048 55.75V323.68M344.814 55.75V323.68M347.580 55.75V323.68M350.346 55.75V323.68M353.112 55.75V323.68M355.878 55.75V323.68M358.644 55.75V323.68M361.410 55.75V323.68M364.176 55.75V323.68M366.942 55.75V323.68M369.708 55.75V323.68M372.474 55.75V323.68M375.240 55.75V323.68M378.006 55.75V323.68M380.772 55.75V323.68M383.538 55.75V323.68M386.304 55.75V323.68M389.070 55.75V323.68M391.836 55.75V323.68M394.602 55.75V323.68M397.368 55.75V323.68M400.134 55.75V323.68M402.900 55.75V323.68" stroke="#000" stroke-opacity="0.48" stroke-width="0.7" fill="none"/>
<path d="M264.600 24.10V54.30M267.366 24.10V54.30M270.132 24.10V54.30M272.898 24.10V54.30M275.664 24.10V54.30M278.430 24.10V54.30M281.196 24.10V54.30M283.962 24.10V54.30M286.728 24.10V54.30M289.494 24.10V54.30M292.260 24.10V54.30M295.026 24.10V54.30M297.792 24.10V54.30M300.558 24.10V54.30M303.324 24.10V54.30M306.090 24.10V54.30M308.856 24.10V54.30M311.622 24.10V54.30M314.388 24.10V54.30M317.154 24.10V54.30M319.920 24.10V54.30M322.686 24.10V54.30M325.452 24.10V54.30M328.218 24.10V54.30M330.984 24.10V54.30M333.750 24.10V54.30M336.516 24.10V54.30M339.282 24.10V54.30M342.048 24.10V54.30M344.814 24.10V54.30M347.580 24.10V54.30M350.346 24.10V54.30M353.112 24.10V54.30M355.878 24.10V54.30M358.644 24.10V54.30M361.410 24.10V54.30M364.176 24.10V54.30M366.942 24.10V54.30M369.708 24.10V54.30M372.474 24.10V54.30M375.240 24.10V54.30M378.006 24.10V54.30M380.772 24.10V54.30M383.538 24.10V54.30M386.304 24.10V54.30M389.070 24.10V54.30M391.836 24.10V54.30M394.602 24.10V54.30M397.368 24.10V54.30M400.134 24.10V54.30M402.900 24.10V54.30" stroke="#000" stroke-opacity="0.12" stroke-width="0.5" fill="none"/>
<path d="M264.60 55.750H402.90M264.60 63.405H402.90M264.60 71.060H402.90M264.60 78.715H402.90M264.60 86.370H402.90M264.60 94.025H402.90M264.60 101.680H402.90M264.60 109.335H402.90M264.60 116.990H402.90M264.60 124.645H402.90M264.60 132.300H402.90M264.60 139.955H402.90M264.60 147.610H402.90M264.60 155.265H402.90M264.60 162.920H402.90M264.60 170.575H402.90M264.60 178.230H402.90M264.60 185.885H402.90M264.60 193.540H402.90M264.60 201.195H402.90M264.60 208.850H402.90M264.60 216.505H402.90M264.60 224.160H402.90M264.60 231.815H402.90M264.60 239.470H402.90M264.60 247.125H402.90M264.60 254.780H402.90M264.60 262.435H402.90M264.60 270.090H402.90M264.60 277.745H402.90M264.60 285.400H402.90M264.60 293.055H402.90M264.60 300.710H402.90M264.60 308.365H402.90M264.60 316.020H402.90M264.60 323.675H402.90" stroke="#000" stroke-opacity="0.38" stroke-width="0.6" fill="none"/>
<rect x="264.700" y="55.750" width="2.566" height="7.655" fill="#363b4e"/>
<rect x="267.466" y="55.750" width="2.566" height="7.655" fill="#363b4e"/>
<rect x="270.232" y="55.750" width="2.566" height="7.655" fill="#363b4e"/>
<rect x="272.998" y="55.750" width="2.566" height="7.655" fill="#363b4e"/>
<rect x="275.764" y="55.750" width="2.566" height="7.655" fill="#363b4e"/>
<rect x="278.530" y="55.750" width="2.566" height="7.655" fill="#363b4e"/>
<rect x="281.296" y="55.750" width="2.566" height="7.655" fill="#363b4e"/>
<rect x="284.062" y="55.750" width="2.566" height="7.655" fill="#363b4e"/>
<rect x="286.828" y="55.750" width="2.566" height="7.655" fill="#363b4e"/>
<rect x="289.594" y="55.750" width="2.566" height="7.655" fill="#363b4e"/>
<rect x="292.360" y="55.750" width="2.566" height="7.655" fill="#363b4e"/>
<rect x="295.126" y="55.750" width="2.566" height="7.655" fill="#363b4e"/>
<rect x="297.892" y="55.750" width="2.566" height="7.655" fill="#363b4e"/>
<rect x="300.658" y="55.750" width="2.566" height="7.655" fill="#363b4e"/>
<rect x="303.424" y="55.750" width="2.566" height="7.655" fill="#363b4e"/>
<rect x="306.190" y="55.750" width="2.566" height="7.655" fill="#363b4e"/>
<rect x="308.956" y="55.750" width="2.566" height="7.655" fill="#363b4e"/>
<rect x="311.722" y="55.750" width="2.566" height="7.655" fill="#363b4e"/>
<rect x="314.488" y="55.750" width="2.566" height="7.655" fill="#363b4e"/>
<rect x="317.254" y="55.750" width="2.566" height="7.655" fill="#363b4e"/>
<rect x="320.020" y="55.750" width="2.566" height="7.655" fill="#363b4e"/>
<rect x="322.786" y="55.750" width="2.566" height="7.655" fill="#363b4e"/>
<rect x="325.552" y="55.750" width="2.566" height="7.655" fill="#363b4e"/>
<rect x="328.318" y="55.750" width="2.566" height="7.655" fill="#363b4e"/>
<rect x="331.084" y="55.750" width="2.566" height="7.655" fill="#363b4e"/>
<rect x="333.850" y="55.750" width="2.566" height="7.655" fill="#363b4e"/>
<rect x="336.616" y="55.750" width="2.566" height="7.655" fill="#363b4e"/>
<rect x="339.382" y="55.750" width="2.566" height="7.655" fill="#363b4e"/>
<rect x="342.148" y="55.750" width="2.566" height="7.655" fill="#363b4e"/>
<rect x="344.914" y="55.750" width="2.566" height="7.655" fill="#363b4e"/>
<rect x="347.680" y="55.750" width="2.566" height="7.655" fill="#363b4e"/>
<rect x="350.446" y="55.750" width="2.566" height="7.655" fill="#363b4e"/>
<rect x="353.212" y="55.750" width="2.566" height="7.655" fill="#363b4e"/>
<rect x="355.978" y="55.750" width="2.566" height="7.655" fill="#363b4e"/>
<rect x="358.744" y="55.750" width="2.566" height="7.655" fill="#363b4e"/>
<rect x="361.510" y="55.750" width="2.566" height="7.655" fill="#363b4e"/>
<rect x="364.276" y="55.750" width="2.566" height="7.655" fill="#363b4e"/>
<rect x="367.042" y="55.750" width="2.566" height="7.655" fill="#363b4e"/>
<rect x="369.808" y="55.750" width="2.566" height="7.655" fill="#363b4e"/>
<rect x="372.574" y="55.750" width="2.566" height="7.655" fill="#363b4e"/>
<rect x="375.340" y="55.750" width="2.566" height="7.655" fill="#363b4e"/>
<rect x="378.106" y="55.750" width="2.566" height="7.655" fill="#363b4e"/>
<rect x="380.872" y="55.750" width="2.566" height="7.655" fill="#363b4e"/>
<rect x="383.638" y="55.750" width="2.566" height="7.655" fill="#363b4e"/>
<rect x="386.404" y="55.750" width="2.566" height="7.655" fill="#363b4e"/>
<rect x="389.170" y="55.750" width="2.566" height="7.655" fill="#363b4e"/>
<rect x="391.936" y="55.750" width="2.566" height="7.655" fill="#363b4e"/>
<rect x="394.702" y="55.750" width="2.566" height="7.655" fill="#363b4e"/>
<rect x="397.468" y="55.750" width="2.566" height="7.655" fill="#363b4e"/>
<rect x="400.234" y="55.750" width="2.566" height="7.655" fill="#363b4e"/>
<rect x="264.700" y="63.405" width="2.566" height="7.655" fill="#363b4e"/>
<rect x="267.466" y="63.405" width="2.566" height="7.655" fill="#363b4e"/>
<rect x="270.232" y="63.405" width="2.566" height="7.655" fill="#363b4e"/>
<rect x="272.998" y="63.405" width="2.566" height="7.655" fill="#363b4e"/>
<rect x="278.530" y="63.405" width="2.566" height="7.655" fill="#363b4e"/>
<rect x="284.062" y="63.405" width="2.566" height="7.655" fill="#363b4e"/>
<rect x="286.828" y="63.405" width="2.566" height="7.655" fill="#363b4e"/>
<rect x="289.594" y="63.405" width="2.566" height="7.655" fill="#363b4e"/>
<rect x="292.360" y="63.405" width="2.566" height="7.655" fill="#363b4e"/>
<rect x="295.126" y="63.405" width="2.566" height="7.655" fill="#363b4e"/>
<rect x="297.892" y="63.405" width="2.566" height="7.655" fill="#363b4e"/>
<rect x="300.658" y="63.405" width="2.566" height="7.655" fill="#363b4e"/>
<rect x="320.020" y="63.405" width="2.566" height="7.655" fill="#363b4e"/>
<rect x="322.786" y="63.405" width="2.566" height="7.655" fill="#363b4e"/>
<rect x="331.084" y="63.405" width="2.566" height="7.655" fill="#363b4e"/>
<rect x="333.850" y="63.405" width="2.566" height="7.655" fill="#363b4e"/>
<rect x="336.616" y="63.405" width="2.566" height="7.655" fill="#363b4e"/>
<rect x="339.382" y="63.405" width="2.566" height="7.655" fill="#363b4e"/>
<rect x="350.446" y="63.405" width="2.566" height="7.655" fill="#363b4e"/>
<rect x="361.510" y="63.405" width="2.566" height="7.655" fill="#363b4e"/>
<rect x="372.574" y="63.405" width="2.566" height="7.655" fill="#363b4e"/>
<rect x="375.340" y="63.405" width="2.566" height="7.655" fill="#363b4e"/>
<rect x="386.404" y="63.405" width="2.566" height="7.655" fill="#363b4e"/>
<rect x="389.170" y="63.405" width="2.566" height="7.655" fill="#363b4e"/>
<rect x="394.702" y="63.405" width="2.566" height="7.655" fill="#363b4e"/>
<rect x="397.468" y="63.405" width="2.566" height="7.655" fill="#363b4e"/>
<rect x="400.234" y="63.405" width="2.566" height="7.655" fill="#363b4e"/>
<rect x="264.700" y="71.060" width="2.566" height="7.655" fill="#363b4e"/>
<rect x="267.466" y="71.060" width="2.566" height="7.655" fill="#363b4e"/>
<rect x="272.998" y="71.060" width="2.566" height="7.655" fill="#363b4e"/>
<rect x="275.764" y="71.060" width="2.566" height="7.655" fill="#363b4e"/>
<rect x="284.062" y="71.060" width="2.566" height="7.655" fill="#363b4e"/>
<rect x="289.594" y="71.060" width="2.566" height="7.655" fill="#363b4e"/>
<rect x="292.360" y="71.060" width="2.566" height="7.655" fill="#363b4e"/>
<rect x="297.892" y="71.060" width="2.566" height="7.655" fill="#363b4e"/>
<rect x="300.658" y="71.060" width="2.566" height="7.655" fill="#363b4e"/>
<rect x="314.488" y="71.060" width="2.566" height="7.655" fill="#363b4e"/>
<rect x="322.786" y="71.060" width="2.566" height="7.655" fill="#363b4e"/>
<rect x="325.552" y="71.060" width="2.566" height="7.655" fill="#363b4e"/>
<rect x="333.850" y="71.060" width="2.566" height="7.655" fill="#363b4e"/>
<rect x="353.212" y="71.060" width="2.566" height="7.655" fill="#363b4e"/>
<rect x="355.978" y="71.060" width="2.566" height="7.655" fill="#363b4e"/>
<rect x="364.276" y="71.060" width="2.566" height="7.655" fill="#363b4e"/>
<rect x="367.042" y="71.060" width="2.566" height="7.655" fill="#363b4e"/>
<rect x="372.574" y="71.060" width="2.566" height="7.655" fill="#363b4e"/>
<rect x="378.106" y="71.060" width="2.566" height="7.655" fill="#363b4e"/>
<rect x="386.404" y="71.060" width="2.566" height="7.655" fill="#363b4e"/>
<rect x="389.170" y="71.060" width="2.566" height="7.655" fill="#363b4e"/>
<rect x="391.936" y="71.060" width="2.566" height="7.655" fill="#363b4e"/>
<rect x="394.702" y="71.060" width="2.566" height="7.655" fill="#363b4e"/>
<rect x="264.700" y="78.715" width="2.566" height="7.655" fill="#363b4e"/>
<rect x="270.232" y="78.715" width="2.566" height="7.655" fill="#363b4e"/>
<rect x="284.062" y="78.715" width="2.566" height="7.655" fill="#363b4e"/>
<rect x="289.594" y="78.715" width="2.566" height="7.655" fill="#363b4e"/>
<rect x="292.360" y="78.715" width="2.566" height="7.655" fill="#363b4e"/>
<rect x="300.658" y="78.715" width="2.566" height="7.655" fill="#363b4e"/>
<rect x="314.488" y="78.715" width="2.566" height="7.655" fill="#363b4e"/>
<rect x="322.786" y="78.715" width="2.566" height="7.655" fill="#363b4e"/>
<rect x="328.318" y="78.715" width="2.566" height="7.655" fill="#363b4e"/>
<rect x="350.446" y="78.715" width="2.566" height="7.655" fill="#363b4e"/>
<rect x="372.574" y="78.715" width="2.566" height="7.655" fill="#363b4e"/>
<rect x="394.702" y="78.715" width="2.566" height="7.655" fill="#363b4e"/>
<rect x="397.468" y="78.715" width="2.566" height="7.655" fill="#363b4e"/>
<rect x="400.234" y="78.715" width="2.566" height="7.655" fill="#363b4e"/>
<rect x="267.466" y="86.370" width="2.566" height="7.655" fill="#363b4e"/>
<rect x="272.998" y="86.370" width="2.566" height="7.655" fill="#363b4e"/>
<rect x="286.828" y="86.370" width="2.566" height="7.655" fill="#363b4e"/>
<rect x="292.360" y="86.370" width="2.566" height="7.655" fill="#363b4e"/>
<rect x="328.318" y="86.370" width="2.566" height="7.655" fill="#363b4e"/>
<rect x="336.616" y="86.370" width="2.566" height="7.655" fill="#363b4e"/>
<rect x="358.744" y="86.370" width="2.566" height="7.655" fill="#363b4e"/>
<rect x="367.042" y="86.370" width="2.566" height="7.655" fill="#363b4e"/>
<rect x="378.106" y="86.370" width="2.566" height="7.655" fill="#363b4e"/>
<rect x="389.170" y="86.370" width="2.566" height="7.655" fill="#363b4e"/>
<rect x="397.468" y="86.370" width="2.566" height="7.655" fill="#363b4e"/>
<rect x="267.466" y="94.025" width="2.566" height="7.655" fill="#363b4e"/>
<rect x="325.552" y="94.025" width="2.566" height="7.655" fill="#363b4e"/>
<rect x="328.318" y="94.025" width="2.566" height="7.655" fill="#363b4e"/>
<rect x="353.212" y="94.025" width="2.566" height="7.655" fill="#363b4e"/>
<rect x="367.042" y="94.025" width="2.566" height="7.655" fill="#363b4e"/>
<rect x="378.106" y="94.025" width="2.566" height="7.655" fill="#363b4e"/>
<rect x="380.872" y="94.025" width="2.566" height="7.655" fill="#363b4e"/>
<rect x="383.638" y="94.025" width="2.566" height="7.655" fill="#363b4e"/>
<rect x="289.594" y="101.680" width="2.566" height="7.655" fill="#363b4e"/>
<rect x="292.360" y="101.680" width="2.566" height="7.655" fill="#363b4e"/>
<rect x="297.892" y="101.680" width="2.566" height="7.655" fill="#363b4e"/>
<rect x="336.616" y="101.680" width="2.566" height="7.655" fill="#363b4e"/>
<rect x="347.680" y="101.680" width="2.566" height="7.655" fill="#363b4e"/>
<rect x="358.744" y="101.680" width="2.566" height="7.655" fill="#363b4e"/>
<rect x="389.170" y="101.680" width="2.566" height="7.655" fill="#363b4e"/>
<rect x="278.530" y="109.335" width="2.566" height="7.655" fill="#363b4e"/>
<rect x="308.956" y="109.335" width="2.566" height="7.655" fill="#363b4e"/>
<rect x="314.488" y="109.335" width="2.566" height="7.655" fill="#363b4e"/>
<rect x="344.914" y="109.335" width="2.566" height="7.655" fill="#363b4e"/>
<rect x="347.680" y="109.335" width="2.566" height="7.655" fill="#363b4e"/>
<rect x="358.744" y="109.335" width="2.566" height="7.655" fill="#363b4e"/>
<rect x="369.808" y="109.335" width="2.566" height="7.655" fill="#363b4e"/>
<rect x="311.722" y="116.990" width="2.566" height="7.655" fill="#363b4e"/>
<rect x="355.978" y="116.990" width="2.566" height="7.655" fill="#363b4e"/>
<rect x="358.744" y="116.990" width="2.566" height="7.655" fill="#363b4e"/>
<rect x="380.872" y="116.990" width="2.566" height="7.655" fill="#363b4e"/>
<rect x="383.638" y="116.990" width="2.566" height="7.655" fill="#363b4e"/>
<rect x="400.234" y="116.990" width="2.566" height="7.655" fill="#363b4e"/>
<rect x="292.360" y="124.645" width="2.566" height="7.655" fill="#363b4e"/>
<rect x="314.488" y="124.645" width="2.566" height="7.655" fill="#363b4e"/>
<rect x="391.936" y="124.645" width="2.566" height="7.655" fill="#363b4e"/>
<rect x="286.828" y="132.300" width="2.566" height="7.655" fill="#363b4e"/>
<rect x="292.360" y="132.300" width="2.566" height="7.655" fill="#363b4e"/>
<rect x="383.638" y="132.300" width="2.566" height="7.655" fill="#363b4e"/>
<rect x="275.764" y="139.955" width="2.566" height="7.655" fill="#363b4e"/>
<rect x="353.212" y="139.955" width="2.566" height="7.655" fill="#363b4e"/>
<rect x="367.042" y="139.955" width="2.566" height="7.655" fill="#363b4e"/>
<rect x="284.062" y="147.610" width="2.566" height="7.655" fill="#363b4e"/>
<rect x="333.850" y="147.610" width="2.566" height="7.655" fill="#363b4e"/>
<rect x="386.404" y="147.610" width="2.566" height="7.655" fill="#363b4e"/>
<rect x="311.722" y="155.265" width="2.566" height="7.655" fill="#363b4e"/>
<rect x="336.616" y="155.265" width="2.566" height="7.655" fill="#363b4e"/>
<rect x="361.510" y="155.265" width="2.566" height="7.655" fill="#363b4e"/>
<rect x="272.998" y="162.920" width="2.566" height="7.655" fill="#363b4e"/>
<rect x="297.892" y="162.920" width="2.566" height="7.655" fill="#363b4e"/>
<rect x="325.552" y="162.920" width="2.566" height="7.655" fill="#363b4e"/>
<rect x="272.998" y="170.575" width="2.566" height="7.655" fill="#363b4e"/>
<rect x="306.190" y="170.575" width="2.566" height="7.655" fill="#363b4e"/>
<rect x="369.808" y="170.575" width="2.566" height="7.655" fill="#363b4e"/>
<rect x="320.020" y="178.230" width="2.566" height="7.655" fill="#363b4e"/>
<rect x="336.616" y="178.230" width="2.566" height="7.655" fill="#363b4e"/>
<rect x="314.488" y="185.885" width="2.566" height="7.655" fill="#363b4e"/>
<rect x="369.808" y="185.885" width="2.566" height="7.655" fill="#363b4e"/>
<rect x="270.232" y="193.540" width="2.566" height="7.655" fill="#363b4e"/>
<rect x="314.488" y="193.540" width="2.566" height="7.655" fill="#363b4e"/>
<rect x="378.106" y="201.195" width="2.566" height="7.655" fill="#363b4e"/>
<rect x="394.702" y="201.195" width="2.566" height="7.655" fill="#363b4e"/>
<rect x="372.574" y="208.850" width="2.566" height="7.655" fill="#363b4e"/>
<rect x="380.872" y="208.850" width="2.566" height="7.655" fill="#363b4e"/>
<rect x="306.190" y="216.505" width="2.566" height="7.655" fill="#363b4e"/>
<rect x="361.510" y="216.505" width="2.566" height="7.655" fill="#363b4e"/>
<rect x="272.998" y="224.160" width="2.566" height="7.655" fill="#363b4e"/>
<rect x="331.084" y="224.160" width="2.566" height="7.655" fill="#363b4e"/>
<rect x="297.892" y="231.815" width="2.566" height="7.655" fill="#363b4e"/>
<rect x="320.020" y="231.815" width="2.566" height="7.655" fill="#363b4e"/>
<rect x="289.594" y="239.470" width="2.566" height="7.655" fill="#363b4e"/>
<rect x="303.424" y="247.125" width="2.566" height="7.655" fill="#363b4e"/>
<rect x="303.424" y="254.780" width="2.566" height="7.655" fill="#363b4e"/>
<rect x="394.702" y="262.435" width="2.566" height="7.655" fill="#363b4e"/>
<rect x="380.872" y="270.090" width="2.566" height="7.655" fill="#363b4e"/>
<rect x="364.276" y="277.745" width="2.566" height="7.655" fill="#363b4e"/>
<rect x="378.106" y="285.400" width="2.566" height="7.655" fill="#363b4e"/>
<rect x="389.170" y="293.055" width="2.566" height="7.655" fill="#363b4e"/>
<rect x="336.616" y="300.710" width="2.566" height="7.655" fill="#363b4e"/>
<rect x="358.744" y="308.365" width="2.566" height="7.655" fill="#363b4e"/>
<rect x="400.234" y="316.020" width="2.566" height="7.655" fill="#363b4e"/>
<text x="261.2" y="30.200000000000003" font-size="7.8" text-anchor="end" fill="#222" color="#222" font-weight="normal" font-style="normal" >Treatment arm</text>
<text x="261.2" y="37.800000000000004" font-size="7.8" text-anchor="end" fill="#222" color="#222" font-weight="normal" font-style="normal" >R-IPSS group</text>
<text x="261.2" y="45.4" font-size="7.8" text-anchor="end" fill="#222" color="#222" font-weight="normal" font-style="normal" >Cytogenetic risk</text>
<text x="261.2" y="53.0" font-size="7.8" text-anchor="end" fill="#222" color="#222" font-weight="normal" font-style="normal" >Response</text>
<text x="261.2" y="61.85" font-size="8.0" text-anchor="end" fill="#222" color="#222" font-weight="normal" font-style="italic" >IDH2</text>
<text x="261.2" y="69.505" font-size="8.0" text-anchor="end" fill="#222" color="#222" font-weight="normal" font-style="italic" >SRSF2</text>
<text x="261.2" y="77.16" font-size="8.0" text-anchor="end" fill="#222" color="#222" font-weight="normal" font-style="italic" >ASXL1</text>
<text x="261.2" y="84.815" font-size="8.0" text-anchor="end" fill="#222" color="#222" font-weight="normal" font-style="italic" >STAG2</text>
<text x="261.2" y="92.47" font-size="8.0" text-anchor="end" fill="#222" color="#222" font-weight="normal" font-style="italic" >RUNX1</text>
<text x="261.2" y="100.125" font-size="8.0" text-anchor="end" fill="#222" color="#222" font-weight="normal" font-style="italic" >U2AF1</text>
<text x="261.2" y="107.78" font-size="8.0" text-anchor="end" fill="#222" color="#222" font-weight="normal" font-style="italic" >TET2</text>
<text x="261.2" y="115.435" font-size="8.0" text-anchor="end" fill="#222" color="#222" font-weight="normal" font-style="italic" >SF3B1</text>
<text x="261.2" y="123.09" font-size="8.0" text-anchor="end" fill="#222" color="#222" font-weight="normal" font-style="italic" >DNMT3A</text>
<text x="261.2" y="130.745" font-size="8.0" text-anchor="end" fill="#222" color="#222" font-weight="normal" font-style="italic" >EZH2</text>
<text x="261.2" y="138.4" font-size="8.0" text-anchor="end" fill="#222" color="#222" font-weight="normal" font-style="italic" >CBL</text>
<text x="261.2" y="146.05499999999998" font-size="8.0" text-anchor="end" fill="#222" color="#222" font-weight="normal" font-style="italic" >PHF6</text>
<text x="261.2" y="153.71" font-size="8.0" text-anchor="end" fill="#222" color="#222" font-weight="normal" font-style="italic" >SETBP1</text>
<text x="261.2" y="161.36499999999998" font-size="8.0" text-anchor="end" fill="#222" color="#222" font-weight="normal" font-style="italic" >KRAS</text>
<text x="261.2" y="169.02" font-size="8.0" text-anchor="end" fill="#222" color="#222" font-weight="normal" font-style="italic" >JAK2</text>
<text x="261.2" y="176.67499999999998" font-size="8.0" text-anchor="end" fill="#222" color="#222" font-weight="normal" font-style="italic" >TP53</text>
<text x="261.2" y="184.33" font-size="8.0" text-anchor="end" fill="#222" color="#222" font-weight="normal" font-style="italic" >ASXL2</text>
<text x="261.2" y="191.98499999999999" font-size="8.0" text-anchor="end" fill="#222" color="#222" font-weight="normal" font-style="italic" >CEBPA</text>
<text x="261.2" y="199.64" font-size="8.0" text-anchor="end" fill="#222" color="#222" font-weight="normal" font-style="italic" >GATA2</text>
<text x="261.2" y="207.295" font-size="8.0" text-anchor="end" fill="#222" color="#222" font-weight="normal" font-style="italic" >CREBBP</text>
<text x="261.2" y="214.95" font-size="8.0" text-anchor="end" fill="#222" color="#222" font-weight="normal" font-style="italic" >BCOR</text>
<text x="261.2" y="222.605" font-size="8.0" text-anchor="end" fill="#222" color="#222" font-weight="normal" font-style="italic" >MAP2K1</text>
<text x="261.2" y="230.26" font-size="8.0" text-anchor="end" fill="#222" color="#222" font-weight="normal" font-style="italic" >STAT5B</text>
<text x="261.2" y="237.915" font-size="8.0" text-anchor="end" fill="#222" color="#222" font-weight="normal" font-style="italic" >NF1</text>
<text x="261.2" y="245.57" font-size="8.0" text-anchor="end" fill="#222" color="#222" font-weight="normal" font-style="italic" >U2AF2</text>
<text x="261.2" y="253.225" font-size="8.0" text-anchor="end" fill="#222" color="#222" font-weight="normal" font-style="italic" >KIT</text>
<text x="261.2" y="260.88" font-size="8.0" text-anchor="end" fill="#222" color="#222" font-weight="normal" font-style="italic" >NRAS</text>
<text x="261.2" y="268.535" font-size="8.0" text-anchor="end" fill="#222" color="#222" font-weight="normal" font-style="italic" >IDH1</text>
<text x="261.2" y="276.19000000000005" font-size="8.0" text-anchor="end" fill="#222" color="#222" font-weight="normal" font-style="italic" >WT1</text>
<text x="261.2" y="283.845" font-size="8.0" text-anchor="end" fill="#222" color="#222" font-weight="normal" font-style="italic" >SMC3</text>
<text x="261.2" y="291.5" font-size="8.0" text-anchor="end" fill="#222" color="#222" font-weight="normal" font-style="italic" >RAD50</text>
<text x="261.2" y="299.15500000000003" font-size="8.0" text-anchor="end" fill="#222" color="#222" font-weight="normal" font-style="italic" >EP300</text>
<text x="261.2" y="306.81000000000006" font-size="8.0" text-anchor="end" fill="#222" color="#222" font-weight="normal" font-style="italic" >ETNK1</text>
<text x="261.2" y="314.46500000000003" font-size="8.0" text-anchor="end" fill="#222" color="#222" font-weight="normal" font-style="italic" >RAD21</text>
<text x="261.2" y="322.12" font-size="8.0" text-anchor="end" fill="#222" color="#222" font-weight="normal" font-style="italic" >KDM6A</text>
<text x="405.6" y="30.1" font-size="8.4" text-anchor="start" fill="#3c3c3c" color="#3c3c3c" font-weight="normal" font-style="normal" >100%</text>
<text x="405.6" y="37.7" font-size="8.4" text-anchor="start" fill="#3c3c3c" color="#3c3c3c" font-weight="normal" font-style="normal" >100%</text>
<text x="405.6" y="45.3" font-size="8.4" text-anchor="start" fill="#3c3c3c" color="#3c3c3c" font-weight="normal" font-style="normal" >100%</text>
<text x="405.6" y="52.9" font-size="8.4" text-anchor="start" fill="#3c3c3c" color="#3c3c3c" font-weight="normal" font-style="normal" >100%</text>
<text x="405.6" y="61.75" font-size="8.4" text-anchor="start" fill="#3c3c3c" color="#3c3c3c" font-weight="normal" font-style="normal" >100%</text>
<text x="405.6" y="69.405" font-size="8.4" text-anchor="start" fill="#3c3c3c" color="#3c3c3c" font-weight="normal" font-style="normal" >54%</text>
<text x="405.6" y="77.06" font-size="8.4" text-anchor="start" fill="#3c3c3c" color="#3c3c3c" font-weight="normal" font-style="normal" >46%</text>
<text x="405.6" y="84.715" font-size="8.4" text-anchor="start" fill="#3c3c3c" color="#3c3c3c" font-weight="normal" font-style="normal" >28%</text>
<text x="405.6" y="92.37" font-size="8.4" text-anchor="start" fill="#3c3c3c" color="#3c3c3c" font-weight="normal" font-style="normal" >22%</text>
<text x="405.6" y="100.025" font-size="8.4" text-anchor="start" fill="#3c3c3c" color="#3c3c3c" font-weight="normal" font-style="normal" >16%</text>
<text x="405.6" y="107.68" font-size="8.4" text-anchor="start" fill="#3c3c3c" color="#3c3c3c" font-weight="normal" font-style="normal" >14%</text>
<text x="405.6" y="115.33500000000001" font-size="8.4" text-anchor="start" fill="#3c3c3c" color="#3c3c3c" font-weight="normal" font-style="normal" >14%</text>
<text x="405.6" y="122.99000000000001" font-size="8.4" text-anchor="start" fill="#3c3c3c" color="#3c3c3c" font-weight="normal" font-style="normal" >12%</text>
<text x="405.6" y="130.64499999999998" font-size="8.4" text-anchor="start" fill="#3c3c3c" color="#3c3c3c" font-weight="normal" font-style="normal" >6%</text>
<text x="405.6" y="138.3" font-size="8.4" text-anchor="start" fill="#3c3c3c" color="#3c3c3c" font-weight="normal" font-style="normal" >6%</text>
<text x="405.6" y="145.95499999999998" font-size="8.4" text-anchor="start" fill="#3c3c3c" color="#3c3c3c" font-weight="normal" font-style="normal" >6%</text>
<text x="405.6" y="153.61" font-size="8.4" text-anchor="start" fill="#3c3c3c" color="#3c3c3c" font-weight="normal" font-style="normal" >6%</text>
<text x="405.6" y="161.265" font-size="8.4" text-anchor="start" fill="#3c3c3c" color="#3c3c3c" font-weight="normal" font-style="normal" >6%</text>
<text x="405.6" y="168.92000000000002" font-size="8.4" text-anchor="start" fill="#3c3c3c" color="#3c3c3c" font-weight="normal" font-style="normal" >6%</text>
<text x="405.6" y="176.575" font-size="8.4" text-anchor="start" fill="#3c3c3c" color="#3c3c3c" font-weight="normal" font-style="normal" >6%</text>
<text x="405.6" y="184.23000000000002" font-size="8.4" text-anchor="start" fill="#3c3c3c" color="#3c3c3c" font-weight="normal" font-style="normal" >4%</text>
<text x="405.6" y="191.885" font-size="8.4" text-anchor="start" fill="#3c3c3c" color="#3c3c3c" font-weight="normal" font-style="normal" >4%</text>
<text x="405.6" y="199.54" font-size="8.4" text-anchor="start" fill="#3c3c3c" color="#3c3c3c" font-weight="normal" font-style="normal" >4%</text>
<text x="405.6" y="207.195" font-size="8.4" text-anchor="start" fill="#3c3c3c" color="#3c3c3c" font-weight="normal" font-style="normal" >4%</text>
<text x="405.6" y="214.85" font-size="8.4" text-anchor="start" fill="#3c3c3c" color="#3c3c3c" font-weight="normal" font-style="normal" >4%</text>
<text x="405.6" y="222.505" font-size="8.4" text-anchor="start" fill="#3c3c3c" color="#3c3c3c" font-weight="normal" font-style="normal" >4%</text>
<text x="405.6" y="230.16" font-size="8.4" text-anchor="start" fill="#3c3c3c" color="#3c3c3c" font-weight="normal" font-style="normal" >4%</text>
<text x="405.6" y="237.815" font-size="8.4" text-anchor="start" fill="#3c3c3c" color="#3c3c3c" font-weight="normal" font-style="normal" >4%</text>
<text x="405.6" y="245.47" font-size="8.4" text-anchor="start" fill="#3c3c3c" color="#3c3c3c" font-weight="normal" font-style="normal" >2%</text>
<text x="405.6" y="253.125" font-size="8.4" text-anchor="start" fill="#3c3c3c" color="#3c3c3c" font-weight="normal" font-style="normal" >2%</text>
<text x="405.6" y="260.78" font-size="8.4" text-anchor="start" fill="#3c3c3c" color="#3c3c3c" font-weight="normal" font-style="normal" >2%</text>
<text x="405.6" y="268.435" font-size="8.4" text-anchor="start" fill="#3c3c3c" color="#3c3c3c" font-weight="normal" font-style="normal" >2%</text>
<text x="405.6" y="276.09000000000003" font-size="8.4" text-anchor="start" fill="#3c3c3c" color="#3c3c3c" font-weight="normal" font-style="normal" >2%</text>
<text x="405.6" y="283.745" font-size="8.4" text-anchor="start" fill="#3c3c3c" color="#3c3c3c" font-weight="normal" font-style="normal" >2%</text>
<text x="405.6" y="291.4" font-size="8.4" text-anchor="start" fill="#3c3c3c" color="#3c3c3c" font-weight="normal" font-style="normal" >2%</text>
<text x="405.6" y="299.055" font-size="8.4" text-anchor="start" fill="#3c3c3c" color="#3c3c3c" font-weight="normal" font-style="normal" >2%</text>
<text x="405.6" y="306.71000000000004" font-size="8.4" text-anchor="start" fill="#3c3c3c" color="#3c3c3c" font-weight="normal" font-style="normal" >2%</text>
<text x="405.6" y="314.365" font-size="8.4" text-anchor="start" fill="#3c3c3c" color="#3c3c3c" font-weight="normal" font-style="normal" >2%</text>
<text x="405.6" y="322.02" font-size="8.4" text-anchor="start" fill="#3c3c3c" color="#3c3c3c" font-weight="normal" font-style="normal" >2%</text>
<path d="M433.6 24.3H465.2" stroke="#222" stroke-width="0.8" fill="none"/>
<line x1="436.50" y1="21.5" x2="436.50" y2="24.3" stroke="#222" stroke-width="0.8"/>
<text x="436.5" y="17.6" font-size="7.6" text-anchor="middle" fill="#333" color="#333" font-weight="normal" font-style="normal" >0</text>
<line x1="449.32" y1="21.5" x2="449.32" y2="24.3" stroke="#222" stroke-width="0.8"/>
<text x="449.325" y="17.6" font-size="7.6" text-anchor="middle" fill="#333" color="#333" font-weight="normal" font-style="normal" >0.5</text>
<line x1="462.15" y1="21.5" x2="462.15" y2="24.3" stroke="#222" stroke-width="0.8"/>
<text x="462.15" y="17.6" font-size="7.6" text-anchor="middle" fill="#333" color="#333" font-weight="normal" font-style="normal" >1</text>
<rect x="436.500" y="25.800" width="13.851" height="3.9" fill="#c80320"/>
<rect x="450.351" y="25.800" width="11.799" height="3.9" fill="#15467a"/>
<rect x="436.500" y="33.400" width="2.565" height="3.9" fill="#dde5df"/>
<rect x="439.065" y="33.400" width="7.182" height="3.9" fill="#a3bdb0"/>
<rect x="446.247" y="33.400" width="10.260" height="3.9" fill="#4f8f72"/>
<rect x="456.507" y="33.400" width="5.643" height="3.9" fill="#1b6a4d"/>
<rect x="436.500" y="41.000" width="1.026" height="3.9" fill="#ddd3e2"/>
<rect x="437.526" y="41.000" width="11.799" height="3.9" fill="#b895c5"/>
<rect x="449.325" y="41.000" width="8.721" height="3.9" fill="#85599b"/>
<rect x="458.046" y="41.000" width="4.104" height="3.9" fill="#441857"/>
<rect x="436.500" y="48.600" width="6.156" height="3.9" fill="#3d9fd8"/>
<rect x="442.656" y="48.600" width="4.104" height="3.9" fill="#d6e8f6"/>
<rect x="446.760" y="48.600" width="3.591" height="3.9" fill="#a4cbea"/>
<rect x="450.351" y="48.600" width="1.026" height="3.9" fill="#b86a1e"/>
<rect x="451.377" y="48.600" width="9.234" height="3.9" fill="#f29a1c"/>
<rect x="460.611" y="48.600" width="1.026" height="3.9" fill="#d6137c"/>
<rect x="436.500" y="57.550" width="25.650" height="4.1" fill="#3e4660"/>
<rect x="436.500" y="65.205" width="13.851" height="4.1" fill="#3e4660"/>
<rect x="436.500" y="72.860" width="11.799" height="4.1" fill="#3e4660"/>
<rect x="436.500" y="80.515" width="7.182" height="4.1" fill="#3e4660"/>
<rect x="436.500" y="88.170" width="5.643" height="4.1" fill="#3e4660"/>
<rect x="436.500" y="95.825" width="4.104" height="4.1" fill="#3e4660"/>
<rect x="436.500" y="103.480" width="3.591" height="4.1" fill="#3e4660"/>
<rect x="436.500" y="111.135" width="3.591" height="4.1" fill="#3e4660"/>
<rect x="436.500" y="118.790" width="3.078" height="4.1" fill="#3e4660"/>
<rect x="436.500" y="126.445" width="1.539" height="4.1" fill="#3e4660"/>
<rect x="436.500" y="134.100" width="1.539" height="4.1" fill="#3e4660"/>
<rect x="436.500" y="141.755" width="1.539" height="4.1" fill="#3e4660"/>
<rect x="436.500" y="149.410" width="1.539" height="4.1" fill="#3e4660"/>
<rect x="436.500" y="157.065" width="1.539" height="4.1" fill="#3e4660"/>
<rect x="436.500" y="164.720" width="1.539" height="4.1" fill="#3e4660"/>
<rect x="436.500" y="172.375" width="1.539" height="4.1" fill="#3e4660"/>
<rect x="436.500" y="180.030" width="1.026" height="4.1" fill="#3e4660"/>
<rect x="436.500" y="187.685" width="1.026" height="4.1" fill="#3e4660"/>
<rect x="436.500" y="195.340" width="1.026" height="4.1" fill="#3e4660"/>
<rect x="436.500" y="202.995" width="1.026" height="4.1" fill="#3e4660"/>
<rect x="436.500" y="210.650" width="1.026" height="4.1" fill="#3e4660"/>
<rect x="436.500" y="218.305" width="1.026" height="4.1" fill="#3e4660"/>
<rect x="436.500" y="225.960" width="1.026" height="4.1" fill="#3e4660"/>
<rect x="436.500" y="233.615" width="1.026" height="4.1" fill="#3e4660"/>
<rect x="436.500" y="241.270" width="0.513" height="4.1" fill="#3e4660"/>
<rect x="436.500" y="248.925" width="0.513" height="4.1" fill="#3e4660"/>
<rect x="436.500" y="256.580" width="0.513" height="4.1" fill="#3e4660"/>
<rect x="436.500" y="264.235" width="0.513" height="4.1" fill="#3e4660"/>
<rect x="436.500" y="271.890" width="0.513" height="4.1" fill="#3e4660"/>
<rect x="436.500" y="279.545" width="0.513" height="4.1" fill="#3e4660"/>
<rect x="436.500" y="287.200" width="0.513" height="4.1" fill="#3e4660"/>
<rect x="436.500" y="294.855" width="0.513" height="4.1" fill="#3e4660"/>
<rect x="436.500" y="302.510" width="0.513" height="4.1" fill="#3e4660"/>
<rect x="436.500" y="310.165" width="0.513" height="4.1" fill="#3e4660"/>
<rect x="436.500" y="317.820" width="0.513" height="4.1" fill="#3e4660"/>
<text x="452.40000000000003" y="91.8" font-size="7.35" text-anchor="start" fill="#222" color="#222" font-weight="normal" font-style="normal" >Treatment arm</text>
<rect x="452.60" y="96.60" width="5.4" height="5.4" fill="#b80c2a" stroke="#555" stroke-width="0.55"/>
<text x="461.2" y="101.69999999999999" font-size="7.35" text-anchor="start" fill="#222" color="#222" font-weight="normal" font-style="normal" >Arm A: ENA+AZA</text>
<rect x="452.60" y="105.60" width="5.4" height="5.4" fill="#184a72" stroke="#555" stroke-width="0.55"/>
<text x="461.2" y="110.69999999999999" font-size="7.35" text-anchor="start" fill="#222" color="#222" font-weight="normal" font-style="normal" >Arm B: ENA</text>
<text x="452.40000000000003" y="124.4" font-size="7.35" text-anchor="start" fill="#222" color="#222" font-weight="normal" font-style="normal" >Cytogenetic risk</text>
<rect x="452.60" y="129.60" width="5.4" height="5.4" fill="#d9d0dd" stroke="#555" stroke-width="0.55"/>
<text x="461.2" y="134.7" font-size="7.35" text-anchor="start" fill="#222" color="#222" font-weight="normal" font-style="normal" >Very good</text>
<rect x="452.60" y="138.60" width="5.4" height="5.4" fill="#aa8dba" stroke="#555" stroke-width="0.55"/>
<text x="461.2" y="143.7" font-size="7.35" text-anchor="start" fill="#222" color="#222" font-weight="normal" font-style="normal" >Good</text>
<rect x="452.60" y="147.60" width="5.4" height="5.4" fill="#7a5689" stroke="#555" stroke-width="0.55"/>
<text x="461.2" y="152.7" font-size="7.35" text-anchor="start" fill="#222" color="#222" font-weight="normal" font-style="normal" >Intermediate</text>
<rect x="452.60" y="156.70" width="5.4" height="5.4" fill="#3f1a4e" stroke="#555" stroke-width="0.55"/>
<text x="461.2" y="161.79999999999998" font-size="7.35" text-anchor="start" fill="#222" color="#222" font-weight="normal" font-style="normal" >Poor</text>
<text x="452.40000000000003" y="176.3" font-size="7.35" text-anchor="start" fill="#222" color="#222" font-weight="normal" font-style="normal" >R-IPSS group</text>
<rect x="452.60" y="181.10" width="5.4" height="5.4" fill="#dde2de" stroke="#555" stroke-width="0.55"/>
<text x="461.2" y="186.2" font-size="7.35" text-anchor="start" fill="#222" color="#222" font-weight="normal" font-style="normal" >Low</text>
<rect x="452.60" y="190.00" width="5.4" height="5.4" fill="#a2b3aa" stroke="#555" stroke-width="0.55"/>
<text x="461.2" y="195.1" font-size="7.35" text-anchor="start" fill="#222" color="#222" font-weight="normal" font-style="normal" >Intermediate</text>
<rect x="452.60" y="198.90" width="5.4" height="5.4" fill="#668a78" stroke="#555" stroke-width="0.55"/>
<text x="461.2" y="204.0" font-size="7.35" text-anchor="start" fill="#222" color="#222" font-weight="normal" font-style="normal" >High</text>
<rect x="452.60" y="207.90" width="5.4" height="5.4" fill="#1c5c45" stroke="#555" stroke-width="0.55"/>
<text x="461.2" y="213.0" font-size="7.35" text-anchor="start" fill="#222" color="#222" font-weight="normal" font-style="normal" >Very high</text>
<text x="452.40000000000003" y="226.6" font-size="7.35" text-anchor="start" fill="#222" color="#222" font-weight="normal" font-style="normal" >Response</text>
<rect x="452.60" y="231.80" width="5.4" height="5.4" fill="#3d9fd8" stroke="#555" stroke-width="0.55"/>
<text x="461.2" y="236.9" font-size="7.35" text-anchor="start" fill="#222" color="#222" font-weight="normal" font-style="normal" >CR</text>
<rect x="452.60" y="240.80" width="5.4" height="5.4" fill="#d6e8f6" stroke="#555" stroke-width="0.55"/>
<text x="461.2" y="245.9" font-size="7.35" text-anchor="start" fill="#222" color="#222" font-weight="normal" font-style="normal" >mCR</text>
<rect x="452.60" y="249.70" width="5.4" height="5.4" fill="#a4cbea" stroke="#555" stroke-width="0.55"/>
<text x="461.2" y="254.79999999999998" font-size="7.35" text-anchor="start" fill="#222" color="#222" font-weight="normal" font-style="normal" >mCR with HI</text>
<rect x="452.60" y="259.00" width="5.4" height="5.4" fill="#b86a1e" stroke="#555" stroke-width="0.55"/>
<text x="461.2" y="264.1" font-size="7.35" text-anchor="start" fill="#222" color="#222" font-weight="normal" font-style="normal" >PR</text>
<rect x="452.60" y="268.00" width="5.4" height="5.4" fill="#f29a1c" stroke="#555" stroke-width="0.55"/>
<text x="461.2" y="273.1" font-size="7.35" text-anchor="start" fill="#222" color="#222" font-weight="normal" font-style="normal" >SD</text>
<rect x="452.60" y="277.20" width="5.4" height="5.4" fill="#d6137c" stroke="#555" stroke-width="0.55"/>
<text x="461.2" y="282.3" font-size="7.35" text-anchor="start" fill="#222" color="#222" font-weight="normal" font-style="normal" >NR</text>
<rect x="452.60" y="286.50" width="5.4" height="5.4" fill="#d2d2da" stroke="#555" stroke-width="0.55"/>
<text x="461.2" y="291.6" font-size="7.35" text-anchor="start" fill="#222" color="#222" font-weight="normal" font-style="normal" >Not evaluable</text>
<rect x="452.60" y="300.60" width="5.4" height="5.4" fill="#363b4e" stroke="#555" stroke-width="0.55"/>
<text x="461.2" y="305.70000000000005" font-size="7.35" text-anchor="start" fill="#222" color="#222" font-weight="normal" font-style="normal" >Mutation present</text>
</svg></body></html>
